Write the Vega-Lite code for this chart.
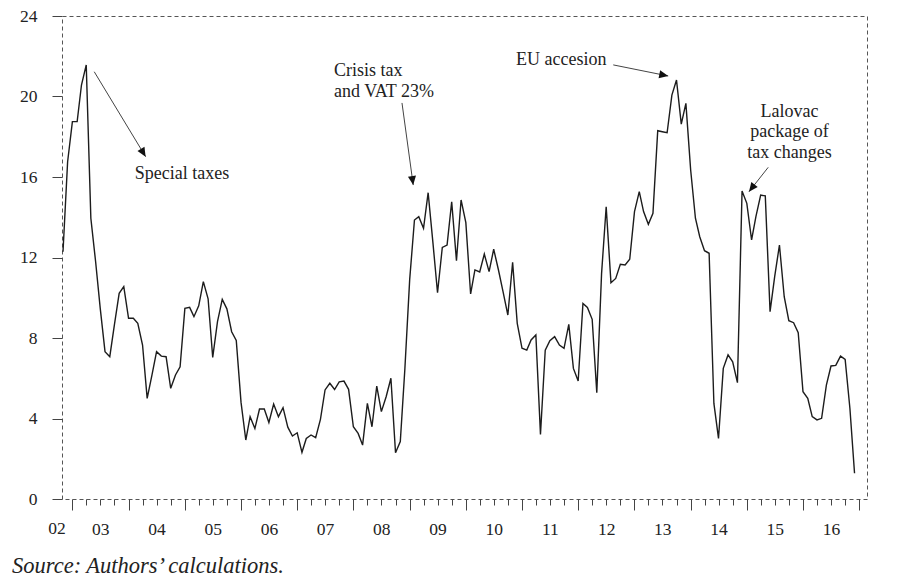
{
  "$schema": "https://vega.github.io/schema/vega-lite/v6.json",
  "width": 805,
  "height": 483,
  "autosize": "none",
  "padding": {"left": 62, "top": 16, "right": 33, "bottom": 87},
  "title": {
    "text": "Source: Authors’ calculations.",
    "orient": "bottom",
    "anchor": "start",
    "frame": "group",
    "dx": -50,
    "offset": 30,
    "baseline": "alphabetic",
    "font": "Liberation Serif",
    "fontSize": 22.5,
    "fontStyle": "italic",
    "fontWeight": "normal",
    "color": "#222"
  },
  "layer": [
    {
      "data": {
        "values": [
          {"month": "2002-11", "value": 12.29}, {"month": "2002-12", "value": 16.76},
          {"month": "2003-01", "value": 18.75}, {"month": "2003-02", "value": 18.75}, {"month": "2003-03", "value": 20.57}, {"month": "2003-04", "value": 21.57},
          {"month": "2003-05", "value": 13.95}, {"month": "2003-06", "value": 11.79}, {"month": "2003-07", "value": 9.47}, {"month": "2003-08", "value": 7.32},
          {"month": "2003-09", "value": 7.07}, {"month": "2003-10", "value": 8.65}, {"month": "2003-11", "value": 10.22}, {"month": "2003-12", "value": 10.55},
          {"month": "2004-01", "value": 8.98}, {"month": "2004-02", "value": 8.98}, {"month": "2004-03", "value": 8.73}, {"month": "2004-04", "value": 7.65},
          {"month": "2004-05", "value": 5.0}, {"month": "2004-06", "value": 6.16}, {"month": "2004-07", "value": 7.32}, {"month": "2004-08", "value": 7.1},
          {"month": "2004-09", "value": 7.07}, {"month": "2004-10", "value": 5.5}, {"month": "2004-11", "value": 6.16}, {"month": "2004-12", "value": 6.57},
          {"month": "2005-01", "value": 9.47}, {"month": "2005-02", "value": 9.52}, {"month": "2005-03", "value": 9.06}, {"month": "2005-04", "value": 9.6},
          {"month": "2005-05", "value": 10.8}, {"month": "2005-06", "value": 9.95}, {"month": "2005-07", "value": 7.04}, {"month": "2005-08", "value": 8.81},
          {"month": "2005-09", "value": 9.92}, {"month": "2005-10", "value": 9.45}, {"month": "2005-11", "value": 8.31}, {"month": "2005-12", "value": 7.88},
          {"month": "2006-01", "value": 4.8}, {"month": "2006-02", "value": 2.93}, {"month": "2006-03", "value": 4.09}, {"month": "2006-04", "value": 3.5},
          {"month": "2006-05", "value": 4.47}, {"month": "2006-06", "value": 4.47}, {"month": "2006-07", "value": 3.8}, {"month": "2006-08", "value": 4.72},
          {"month": "2006-09", "value": 4.09}, {"month": "2006-10", "value": 4.54}, {"month": "2006-11", "value": 3.57}, {"month": "2006-12", "value": 3.13},
          {"month": "2007-01", "value": 3.29}, {"month": "2007-02", "value": 2.32}, {"month": "2007-03", "value": 3.01}, {"month": "2007-04", "value": 3.18},
          {"month": "2007-05", "value": 3.05}, {"month": "2007-06", "value": 3.96}, {"month": "2007-07", "value": 5.42}, {"month": "2007-08", "value": 5.75},
          {"month": "2007-09", "value": 5.44}, {"month": "2007-10", "value": 5.82}, {"month": "2007-11", "value": 5.86}, {"month": "2007-12", "value": 5.45},
          {"month": "2008-01", "value": 3.59}, {"month": "2008-02", "value": 3.26}, {"month": "2008-03", "value": 2.68}, {"month": "2008-04", "value": 4.75},
          {"month": "2008-05", "value": 3.59}, {"month": "2008-06", "value": 5.61}, {"month": "2008-07", "value": 4.34}, {"month": "2008-08", "value": 5.08},
          {"month": "2008-09", "value": 6.0}, {"month": "2008-10", "value": 2.3}, {"month": "2008-11", "value": 2.85}, {"month": "2008-12", "value": 6.5},
          {"month": "2009-01", "value": 10.9}, {"month": "2009-02", "value": 13.86}, {"month": "2009-03", "value": 14.03}, {"month": "2009-04", "value": 13.45},
          {"month": "2009-05", "value": 15.22}, {"month": "2009-06", "value": 12.74}, {"month": "2009-07", "value": 10.25}, {"month": "2009-08", "value": 12.5},
          {"month": "2009-09", "value": 12.62}, {"month": "2009-10", "value": 14.77}, {"month": "2009-11", "value": 11.84}, {"month": "2009-12", "value": 14.86},
          {"month": "2010-01", "value": 13.73}, {"month": "2010-02", "value": 10.19}, {"month": "2010-03", "value": 11.38}, {"month": "2010-04", "value": 11.28},
          {"month": "2010-05", "value": 12.17}, {"month": "2010-06", "value": 11.3}, {"month": "2010-07", "value": 12.41}, {"month": "2010-08", "value": 11.38},
          {"month": "2010-09", "value": 10.25}, {"month": "2010-10", "value": 9.14}, {"month": "2010-11", "value": 11.76}, {"month": "2010-12", "value": 8.73},
          {"month": "2011-01", "value": 7.49}, {"month": "2011-02", "value": 7.4}, {"month": "2011-03", "value": 7.9}, {"month": "2011-04", "value": 8.15},
          {"month": "2011-05", "value": 3.21}, {"month": "2011-06", "value": 7.4}, {"month": "2011-07", "value": 7.87}, {"month": "2011-08", "value": 8.07},
          {"month": "2011-09", "value": 7.65}, {"month": "2011-10", "value": 7.49}, {"month": "2011-11", "value": 8.68}, {"month": "2011-12", "value": 6.49},
          {"month": "2012-01", "value": 5.86}, {"month": "2012-02", "value": 9.72}, {"month": "2012-03", "value": 9.52}, {"month": "2012-04", "value": 8.93},
          {"month": "2012-05", "value": 5.28}, {"month": "2012-06", "value": 11.2}, {"month": "2012-07", "value": 14.52}, {"month": "2012-08", "value": 10.75},
          {"month": "2012-09", "value": 10.96}, {"month": "2012-10", "value": 11.66}, {"month": "2012-11", "value": 11.63}, {"month": "2012-12", "value": 11.91},
          {"month": "2013-01", "value": 14.28}, {"month": "2013-02", "value": 15.27}, {"month": "2013-03", "value": 14.28}, {"month": "2013-04", "value": 13.65},
          {"month": "2013-05", "value": 14.2}, {"month": "2013-06", "value": 18.3}, {"month": "2013-07", "value": 18.25}, {"month": "2013-08", "value": 18.2},
          {"month": "2013-09", "value": 20.07}, {"month": "2013-10", "value": 20.82}, {"month": "2013-11", "value": 18.63}, {"month": "2013-12", "value": 19.66},
          {"month": "2014-01", "value": 16.35}, {"month": "2014-02", "value": 13.95}, {"month": "2014-03", "value": 13.03}, {"month": "2014-04", "value": 12.34},
          {"month": "2014-05", "value": 12.21}, {"month": "2014-06", "value": 4.75}, {"month": "2014-07", "value": 3.01}, {"month": "2014-08", "value": 6.49},
          {"month": "2014-09", "value": 7.16}, {"month": "2014-10", "value": 6.82}, {"month": "2014-11", "value": 5.78}, {"month": "2014-12", "value": 15.3},
          {"month": "2015-01", "value": 14.69}, {"month": "2015-02", "value": 12.87}, {"month": "2015-03", "value": 14.03}, {"month": "2015-04", "value": 15.1},
          {"month": "2015-05", "value": 15.06}, {"month": "2015-06", "value": 9.31}, {"month": "2015-07", "value": 11.05}, {"month": "2015-08", "value": 12.62},
          {"month": "2015-09", "value": 10.05}, {"month": "2015-10", "value": 8.86}, {"month": "2015-11", "value": 8.76}, {"month": "2015-12", "value": 8.26},
          {"month": "2016-01", "value": 5.33}, {"month": "2016-02", "value": 5.0}, {"month": "2016-03", "value": 4.09}, {"month": "2016-04", "value": 3.93},
          {"month": "2016-05", "value": 4.01}, {"month": "2016-06", "value": 5.66}, {"month": "2016-07", "value": 6.61}, {"month": "2016-08", "value": 6.64},
          {"month": "2016-09", "value": 7.1}, {"month": "2016-10", "value": 6.94}, {"month": "2016-11", "value": 4.5}, {"month": "2016-12", "value": 1.28}
        ]
      },
      "mark": {"type": "line", "color": "#1c1c1c", "strokeWidth": 1.4},
      "encoding": {
        "x": {
          "field": "month",
          "type": "temporal",
          "scale": {
            "type": "utc",
            "domain": [
              {"year": 2002, "month": 10, "date": 25, "hours": 12, "utc": true},
              {"year": 2017, "month": 2, "date": 20, "utc": true}
            ]
          },
          "axis": {
            "title": null,
            "domain": false,
            "grid": false,
            "tickCount": {"interval": "month", "step": 3},
            "tickColor": "#444",
            "tickSize": {"condition": {"test": "utcmonth(datum.value) == 0", "value": 11}, "value": 6},
            "labelExpr": "utcmonth(datum.value) == 6 ? utcFormat(datum.value, '%y') : ''",
            "labelOverlap": false,
            "labelFlush": false,
            "labelBaseline": "top",
            "labelPadding": 15,
            "labelFont": "Liberation Serif",
            "labelFontSize": 17.5,
            "labelColor": "#222"
          }
        },
        "y": {
          "field": "value",
          "type": "quantitative",
          "scale": {"domain": [0, 24], "nice": false},
          "axis": {
            "title": null,
            "domain": false,
            "grid": false,
            "values": [0, 4, 8, 12, 16, 20, 24],
            "tickSize": 10,
            "tickColor": "#444",
            "labelPadding": 15,
            "labelFont": "Liberation Serif",
            "labelFontSize": 17.5,
            "labelColor": "#222"
          }
        }
      }
    },
    {
      "data": {
        "values": [
          {"from": "2003-05-23", "fromValue": 21.23, "to": "2004-04-21", "toValue": 17.01, "heading": 149},
          {"from": "2008-11-12", "fromValue": 19.68, "to": "2009-01-24", "toValue": 15.6, "heading": 172},
          {"from": "2012-08-16", "fromValue": 21.57, "to": "2013-08-08", "toValue": 21.02, "heading": 101},
          {"from": "2015-05-20", "fromValue": 16.48, "to": "2015-01-15", "toValue": 15.27, "heading": 218}
        ]
      },
      "layer": [
        {
          "mark": {"type": "rule", "color": "#444", "strokeWidth": 1},
          "encoding": {
            "x": {"field": "from", "type": "temporal"},
            "x2": {"field": "to"},
            "y": {"field": "fromValue", "type": "quantitative"},
            "y2": {"field": "toValue"}
          }
        },
        {
          "mark": {"type": "point", "shape": "M0,0L-0.45,1L0.45,1Z", "size": 324, "filled": true, "opacity": 1, "color": "#111", "strokeWidth": 0},
          "encoding": {
            "x": {"field": "to", "type": "temporal"},
            "y": {"field": "toValue", "type": "quantitative"},
            "angle": {"field": "heading", "type": "quantitative", "scale": null}
          }
        }
      ]
    },
    {
      "data": {
        "values": [
          {"date": "2004-02-11", "value": 15.88, "note": "Special taxes"},
          {"date": "2007-08-28", "value": 21.0, "note": "Crisis tax\nand VAT 23%"},
          {"date": "2010-11-23", "value": 21.57, "note": "EU accesion"}
        ]
      },
      "mark": {"type": "text", "align": "left", "baseline": "alphabetic", "lineBreak": "\n", "lineHeight": 21, "font": "Liberation Serif", "fontSize": 18, "color": "#222"},
      "encoding": {
        "x": {"field": "date", "type": "temporal"},
        "y": {"field": "value", "type": "quantitative"},
        "text": {"field": "note"}
      }
    },
    {
      "data": {
        "values": [
          {"date": "2015-10-05", "value": 19.0, "note": "Lalovac\npackage of\ntax changes"}
        ]
      },
      "mark": {"type": "text", "align": "center", "baseline": "alphabetic", "lineBreak": "\n", "lineHeight": 20.5, "font": "Liberation Serif", "fontSize": 18, "color": "#222"},
      "encoding": {
        "x": {"field": "date", "type": "temporal"},
        "y": {"field": "value", "type": "quantitative"},
        "text": {"field": "note"}
      }
    },
    {
      "data": {"values": [{"date": "2002-09-23", "value": 0, "label": "02"}]},
      "mark": {"type": "text", "align": "center", "baseline": "top", "dy": 21, "font": "Liberation Serif", "fontSize": 17.5, "color": "#222"},
      "encoding": {
        "x": {"field": "date", "type": "temporal"},
        "y": {"field": "value", "type": "quantitative"},
        "text": {"field": "label"}
      }
    }
  ],
  "config": {
    "view": {"stroke": "#555", "strokeDash": [4, 3], "strokeWidth": 1}
  }
}
